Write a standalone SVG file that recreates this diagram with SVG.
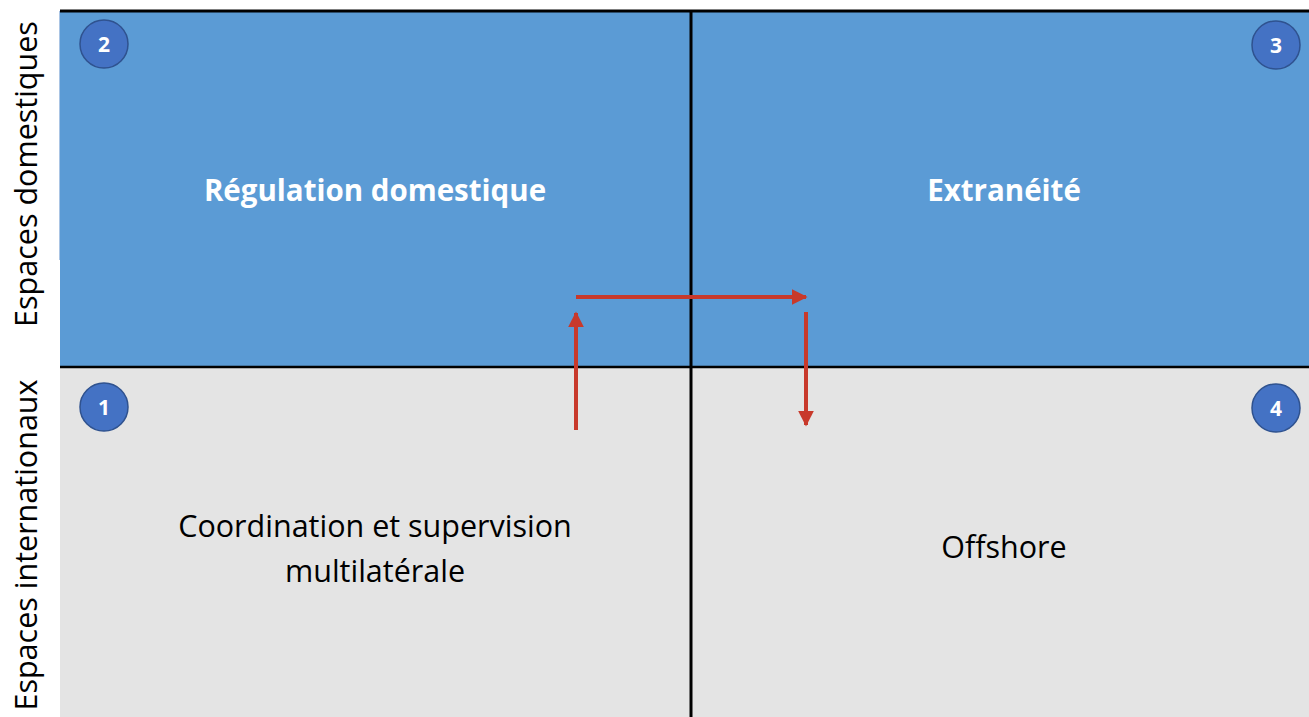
<svg xmlns="http://www.w3.org/2000/svg" width="1309" height="717" viewBox="0 0 1309 717">
<defs>
<style>
.lbl{font-family:"Open Sans","Noto Sans","Liberation Sans",sans-serif;font-size:30.5px;fill:#000;text-anchor:middle}
.ttl{font-family:"Open Sans","Noto Sans","Liberation Sans",sans-serif;font-size:29.5px;font-weight:bold;fill:#fff;text-anchor:middle}
.num{font-family:"Open Sans","Noto Sans","Liberation Sans",sans-serif;font-size:21px;font-weight:bold;fill:#fff;text-anchor:middle}
.circ{fill:#4472C4;stroke:#2F528F;stroke-width:1.5}
.arr{stroke:#C8392B;stroke-width:4;fill:none}
</style>
<marker id="ah" viewBox="0 0 10 10" refX="9" refY="5" markerWidth="4" markerHeight="4" orient="auto" markerUnits="strokeWidth">
<path d="M0,0 L10,5 L0,10 z" fill="#C8392B"/>
</marker>
</defs>
<rect width="1309" height="717" fill="#fff"/>
<g id="q2"><rect x="60" y="11" width="631" height="356" fill="#5B9BD5"/></g>
<g id="q3"><rect x="691" y="11" width="618" height="356" fill="#5B9BD5"/></g>
<g id="q1"><rect x="60" y="367" width="631" height="350" fill="#E4E4E4"/></g>
<g id="q4"><rect x="691" y="367" width="618" height="350" fill="#E4E4E4"/></g>
<g id="dividers">
<line x1="60" y1="11" x2="1309" y2="11" stroke="#000" stroke-width="3"/>
<line x1="60" y1="367" x2="1309" y2="367" stroke="#000" stroke-width="2.5"/>
<line x1="691" y1="11" x2="691" y2="717" stroke="#000" stroke-width="3"/>
<line x1="59.5" y1="11" x2="59.5" y2="260" stroke="#A9C4E4" stroke-width="1"/>
</g>
<g id="n2"><circle class="circ" cx="104" cy="44" r="24"/><text class="num" x="104" y="51.5">2</text></g>
<g id="n3"><circle class="circ" cx="1276" cy="45" r="24"/><text class="num" x="1276" y="52.5">3</text></g>
<g id="n1"><circle class="circ" cx="104" cy="407" r="24"/><text class="num" x="104" y="414.5">1</text></g>
<g id="n4"><circle class="circ" cx="1276" cy="408" r="24"/><text class="num" x="1276" y="415.5">4</text></g>
<g id="t2"><text class="ttl" x="375" y="201">Régulation domestique</text></g>
<g id="t3"><text class="ttl" x="1004" y="201">Extranéité</text></g>
<g id="t1"><text class="lbl" x="375" y="537">Coordination et supervision</text><text class="lbl" x="375" y="582">multilatérale</text></g>
<g id="t4"><text class="lbl" x="1004" y="558">Offshore</text></g>
<g id="axis">
<text class="lbl" transform="translate(37,174) rotate(-90)">Espaces domestiques</text>
<text class="lbl" transform="translate(37,545) rotate(-90)">Espaces internationaux</text>
</g>
<g id="connectors">
<line class="arr" x1="576" y1="430" x2="576" y2="313" marker-end="url(#ah)"/>
<line class="arr" x1="576" y1="297" x2="806" y2="297" marker-end="url(#ah)"/>
<line class="arr" x1="806" y1="312" x2="806" y2="425" marker-end="url(#ah)"/>
</g>
</svg>
